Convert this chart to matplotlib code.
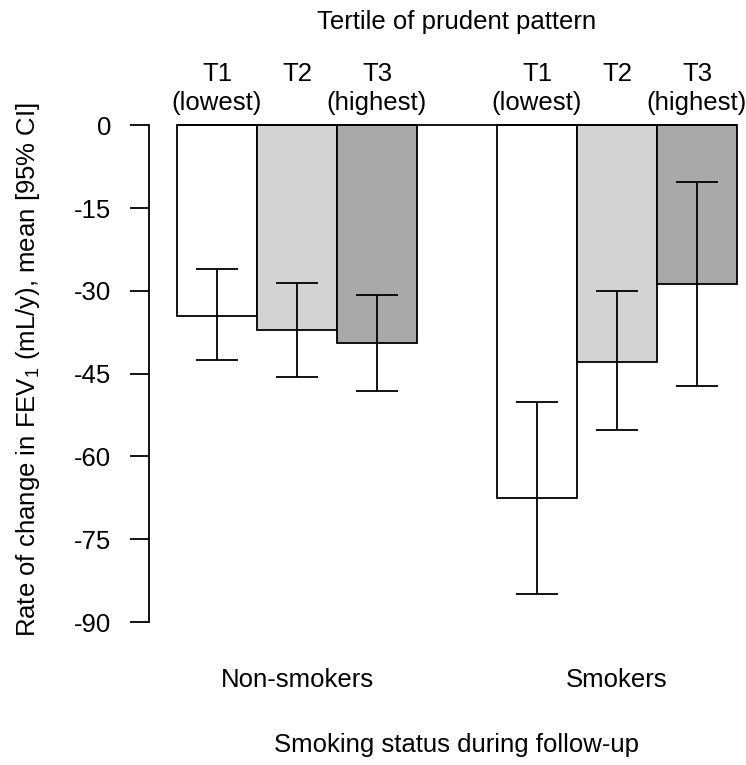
import matplotlib
matplotlib.use("Agg")
import matplotlib.pyplot as plt
import matplotlib.transforms as mtransforms
import numpy as np

plt.rcParams['font.family'] = ['Liberation Sans', 'DejaVu Sans']
plt.rcParams['mathtext.fontset'] = 'custom'
plt.rcParams['mathtext.rm'] = 'Liberation Sans'
plt.rcParams['mathtext.default'] = 'regular'

groups = ["Non-smokers", "Smokers"]
tertile_top = ["T1", "T2", "T3"]
tertile_bottom = ["(lowest)", "", "(highest)"]
bar_colors = ["white", "#d3d3d3", "#a9a9a9"]

# mean rate of change and 95% CI, per group, T1..T3
mean_fev = [[-34.5, -37.0, -39.4], [-67.6, -42.8, -28.8]]
ci_low = [[-42.5, -45.6, -48.2], [-85.0, -55.2, -47.2]]
ci_high = [[-26.0, -28.5, -30.7], [-50.2, -30.1, -10.2]]

yticks = [0, -15, -30, -45, -60, -75, -90]

W, H = 746, 765
fig = plt.figure(figsize=(W / 100, H / 100), dpi=100)
ax = fig.add_axes([149 / W, 1 - 650 / H, (W - 149) / W, 550 / H])

fs = 18.5
lw = 1.3
y0_px, px_per_unit = 125.3, 5.519

# bars laid out like R barplot(beside=TRUE): one bar-width gap between groups
for g in range(len(groups)):
    x = np.arange(3) + 1.5 + 4 * g
    m = np.array(mean_fev[g])
    lo = np.array(ci_low[g])
    hi = np.array(ci_high[g])
    ax.bar(x, m, width=1.0, color=bar_colors, edgecolor="black", linewidth=lw, zorder=2)
    ax.errorbar(x, m, yerr=[m - lo, hi - m], fmt="none", ecolor="black",
                elinewidth=lw, capsize=14.8, capthick=lw, zorder=3)

ax.hlines(0, 1, 8, color="black", linewidth=lw, zorder=4)

ax.set_xlim(0.65, 0.65 + (W - 149) / 80)
ax.set_ylim(-(650 - y0_px) / px_per_unit, (y0_px - 100) / px_per_unit)

for s in ["top", "right", "bottom"]:
    ax.spines[s].set_visible(False)
ax.spines["left"].set_bounds(-90, 0)
ax.spines["left"].set_linewidth(lw)
ax.set_xticks([])
ax.set_yticks(yticks)
ax.set_yticklabels([str(v) for v in yticks])
ax.tick_params(axis="y", length=13.7, width=lw, pad=13.7, labelsize=fs)

fig.text(35 / W, 1 - 369 / H, "Rate of change in FEV$_1$ (mL/y), mean [95% CI]",
         rotation=90, rotation_mode="anchor", ha="center", va="baseline", fontsize=fs)

trans = mtransforms.blended_transform_factory(ax.transData, fig.transFigure)

def fy(py):
    return 1 - py / H

for g in range(len(groups)):
    for i in range(3):
        xc = 1.5 + i + 4 * g
        ax.text(xc, fy(74), tertile_top[i], transform=trans, ha="center", va="center", fontsize=fs)
        if tertile_bottom[i]:
            ax.text(xc, fy(103), tertile_bottom[i], transform=trans, ha="center", va="center", fontsize=fs)
    ax.text(2.5 + 4 * g, fy(680), groups[g], transform=trans, ha="center", va="center", fontsize=fs)

ax.text(4.5, fy(22), "Tertile of prudent pattern", transform=trans, ha="center", va="center", fontsize=fs)
ax.text(4.5, fy(745), "Smoking status during follow-up", transform=trans, ha="center", va="center", fontsize=fs)

fig.savefig("out.png", dpi=100)
